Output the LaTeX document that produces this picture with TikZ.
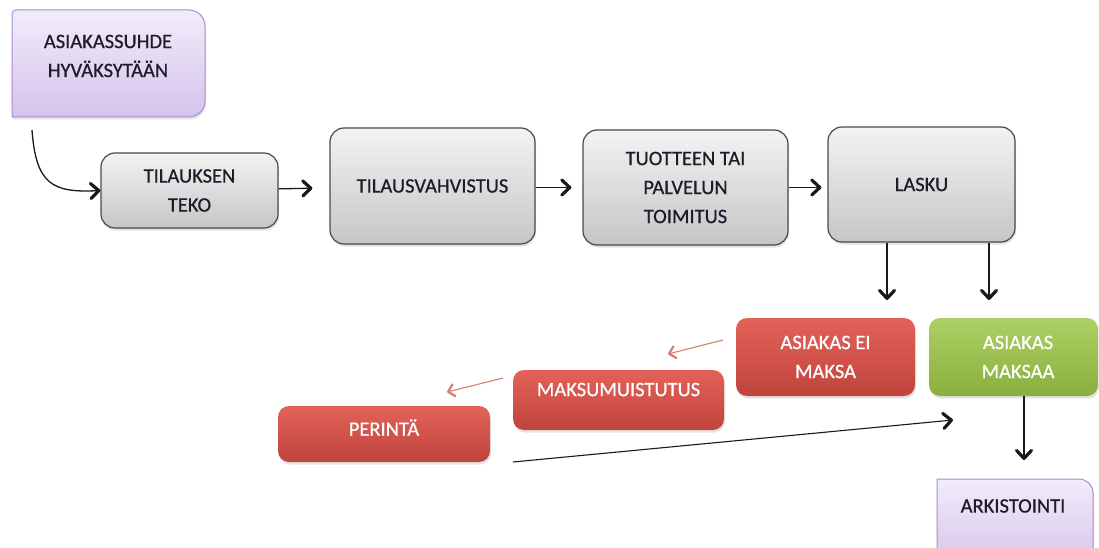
\documentclass[tikz,border=0pt]{standalone}
\usepackage{fontspec}
\setmainfont{Carlito}
\newfontfamily\lblfont{Carlito}[FakeBold=0.6]
\usetikzlibrary{arrows.meta,shadows}
\definecolor{grayTop}{HTML}{F3F3F3}
\definecolor{grayBot}{HTML}{C6C6C6}
\definecolor{grayLine}{HTML}{4A4A4A}
\definecolor{redTop}{HTML}{E3625A}
\definecolor{redBot}{HTML}{C0443C}
\definecolor{greenTop}{HTML}{ACD063}
\definecolor{greenBot}{HTML}{8AAF3E}
\definecolor{purTop}{HTML}{F2ECFA}
\definecolor{purBot}{HTML}{D4C3EB}
\definecolor{purLine}{HTML}{A88DD2}
\definecolor{redArrow}{HTML}{D57C75}
\definecolor{txt}{HTML}{1C1C2A}
\begin{document}
\begin{tikzpicture}[x=1pt,y=-1pt,
  lbl/.style={font=\lblfont\fontsize{20.5}{29}\selectfont, align=center, text=txt},
  shad/.style={drop shadow={shadow xshift=1pt,shadow yshift=-2.5pt,opacity=0.22}},
  graybox/.style={lbl, shad, draw=grayLine, line width=1.2pt, rounded corners=14pt,
    top color=grayTop, bottom color=grayBot},
  redbox/.style={lbl, shad, text=white, draw=none, rounded corners=11pt,
    top color=redTop, bottom color=redBot},
  greenbox/.style={lbl, shad, text=white, draw=none, rounded corners=11pt,
    top color=greenTop, bottom color=greenBot},
  purshape/.style={shad, draw=purLine, line width=1pt, top color=purTop, bottom color=purBot},
  arr/.style={line width=1.3pt, draw=black!90, -{Straight Barb[round,length=8pt,width=15pt,line width=3.2pt 0]}},
  redarr/.style={line width=1.1pt, draw=redArrow, -{Straight Barb[round,length=6pt,width=12pt,line width=2.2pt 0]}}
]
\useasboundingbox (0,0) rectangle (1099,548);
\clip (0,0) rectangle (1099,548);

% purple boxes
\path[purshape] (12,117) -- (12,14) .. controls (12,11.8) and (13.8,10) .. (16,10)
  -- (189,10) .. controls (197.8,10) and (205,17.2) .. (205,26)
  -- (205,101) .. controls (205,109.8) and (197.8,117) .. (189,117) -- cycle;
\node[lbl] (p1) at (108,56) {ASIAKASSUHDE\\HYVÄKSYTÄÄN};

\path[purshape] (937,570) -- (937,479) -- (1079,479) .. controls (1086.7,479) and (1093,485.3) .. (1093,493)
  -- (1093,570) -- cycle;
\node[lbl] (p2) at (1013,506) {ARKISTOINTI};

% gray process boxes
\node[graybox, minimum width=177pt, minimum height=75pt] (b1) at (189.5,190.5) {TILAUKSEN\\TEKO};
\node[graybox, minimum width=205pt, minimum height=116pt] (b2) at (432.5,186) {TILAUSVAHVISTUS};
\node[graybox, minimum width=205pt, minimum height=115pt] (b3) at (685.5,187.5) {TUOTTEEN TAI\\PALVELUN\\TOIMITUS};
\node[graybox, minimum width=187pt, minimum height=115pt] (l) at (921.5,184.5) {LASKU};

% payment outcome boxes
\node[redbox, minimum width=179pt, minimum height=78pt] (r1) at (825.5,357) {ASIAKAS EI\\MAKSA};
\node[greenbox, minimum width=169pt, minimum height=78pt] (g1) at (1013.5,357) {\hspace*{9pt}ASIAKAS\\\hspace*{9pt}MAKSAA};
\node[redbox, minimum width=211pt, minimum height=60pt, text depth=21pt] (r2) at (618.5,400) {MAKSUMUISTUTUS};
\node[redbox, minimum width=212pt, minimum height=56pt, text depth=13pt] (r3) at (384,434) {PERINTÄ};

% connectors
\coordinate (c0) at (32,130);
\draw[arr] (c0) .. controls (36,184) and (52,193) .. (b1.west);
\draw[arr, shorten >=17pt] (b1) -- (b2);
\draw[arr, shorten >=11pt] (b2.east |- b3) -- (b3);
\draw[arr, shorten >=6pt] (b3) -- (l.west |- b3);

\coordinate (d1) at (887,300);
\coordinate (d2) at (989,300);
\draw[arr] (l.south -| d1) -- (d1);
\draw[arr] (l.south -| d2) -- (d2);

\coordinate (d3) at (1024,460);
\draw[arr] (g1.south -| d3) -- (d3);

\coordinate (e1s) at (723,340);
\coordinate (e1t) at (668,354);
\draw[redarr] (e1s) -- (e1t);
\coordinate (e2s) at (503,378);
\coordinate (e2t) at (447,392);
\draw[redarr] (e2s) -- (e2t);

\coordinate (f1s) at (513,462);
\coordinate (f1t) at (953,420);
\draw[arr, line width=1.1pt] (f1s) -- (f1t);
\end{tikzpicture}
\end{document}
